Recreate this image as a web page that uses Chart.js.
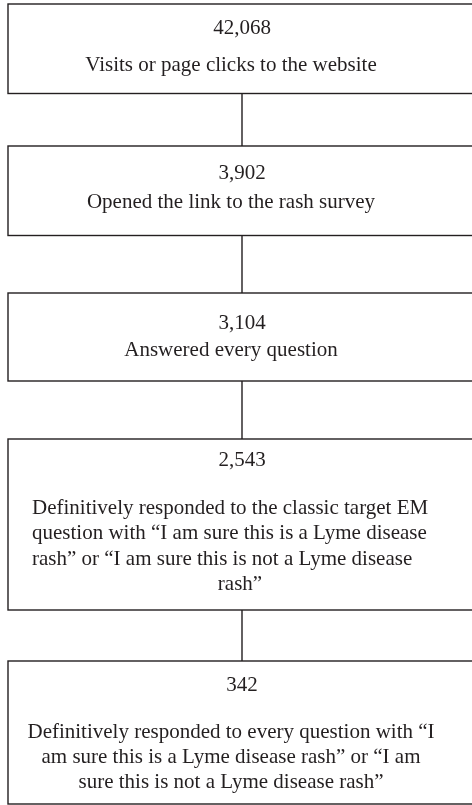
<!DOCTYPE html>
<html>
<head>
<meta charset="utf-8">
<script src="https://cdn.jsdelivr.net/npm/chart.js@4/dist/chart.umd.min.js"></script>
<style>
  html, body { margin: 0; padding: 0; background: #ffffff; }
  #wrap { width: 472px; height: 805px; }
</style>
</head>
<body>
<div id="wrap"><canvas id="c" width="472" height="805"></canvas></div>
<script>
// ---- data ----
const stages = ["Visits", "Opened survey", "Answered all", "Definitive EM", "Definitive all"];
const counts = [42068, 3902, 3104, 2543, 342];
const descriptions = [
  ["Visits or page clicks to the website"],
  ["Opened the link to the rash survey"],
  ["Answered every question"],
  ["Definitively responded to the classic target EM",
   "question with \u201CI am sure this is a Lyme disease",
   "rash\u201D or \u201CI am sure this is not a Lyme disease",
   "rash\u201D"],
  ["Definitively responded to every question with \u201CI",
   "am sure this is a Lyme disease rash\u201D or \u201CI am",
   "sure this is not a Lyme disease rash\u201D"]
];

// ---- layout (positions in scale units = px) ----
const boxTop    = [4, 146, 293, 439, 661];
const boxBottom = [93.5, 235.5, 381, 610, 804];
const numberY   = [28, 173, 323, 460, 685];
const lineY     = [[65], [202], [350], [508, 533, 559, 584], [732, 757, 782]];
const boxLeft = 8, boxRight = 477, centerX = 242, textCenterX = 231;
const INK = '#231f20';
const FONT = '21px "Liberation Serif", "Times New Roman", serif';

// connectors built from box layout
const connectorSets = [];
for (let i = 0; i < stages.length - 1; i++) {
  connectorSets.push({
    type: 'line',
    label: stages[i] + ' \u2192 ' + stages[i + 1],
    data: [{x: centerX, y: boxBottom[i]}, {x: centerX, y: boxTop[i + 1]}],
    borderColor: INK,
    borderWidth: 1.4,
    pointRadius: 0,
    fill: false,
    clip: false
  });
}

const flowPlugin = {
  id: 'flowBoxes',
  afterDatasetsDraw(chart) {
    const {ctx, scales: {x, y}} = chart;
    ctx.save();
    ctx.strokeStyle = INK;
    ctx.lineWidth = 1.4;
    ctx.fillStyle = INK;
    ctx.font = FONT;
    ctx.textBaseline = 'middle';
    for (let i = 0; i < stages.length; i++) {
      const l = x.getPixelForValue(boxLeft), r = x.getPixelForValue(boxRight);
      const t = y.getPixelForValue(boxTop[i]), b = y.getPixelForValue(boxBottom[i]);
      ctx.strokeRect(l, t, r - l, b - t);
      ctx.textAlign = 'center';
      ctx.fillText(counts[i].toLocaleString('en-US'), x.getPixelForValue(centerX), y.getPixelForValue(numberY[i]));
      const lines = descriptions[i];
      for (let j = 0; j < lines.length; j++) {
        const yy = y.getPixelForValue(lineY[i][j]);
        if (i === 3 && j < lines.length - 1) {
          ctx.textAlign = 'left';
          ctx.fillText(lines[j], x.getPixelForValue(32), yy);
        } else if (i === 3) {
          ctx.textAlign = 'center';
          ctx.fillText(lines[j], x.getPixelForValue(240), yy);
        } else {
          ctx.textAlign = 'center';
          ctx.fillText(lines[j], x.getPixelForValue(textCenterX), yy);
        }
      }
    }
    ctx.restore();
  }
};

new Chart(document.getElementById('c'), {
  type: 'scatter',
  data: { datasets: connectorSets },
  options: {
    responsive: false,
    devicePixelRatio: 1,
    animation: false,
    layout: { padding: 0 },
    plugins: { legend: { display: false }, tooltip: { enabled: false } },
    scales: {
      x: { type: 'linear', min: 0, max: 472, display: false },
      y: { type: 'linear', min: 0, max: 805, reverse: true, display: false }
    }
  },
  plugins: [flowPlugin]
});
</script>
</body>
</html>
